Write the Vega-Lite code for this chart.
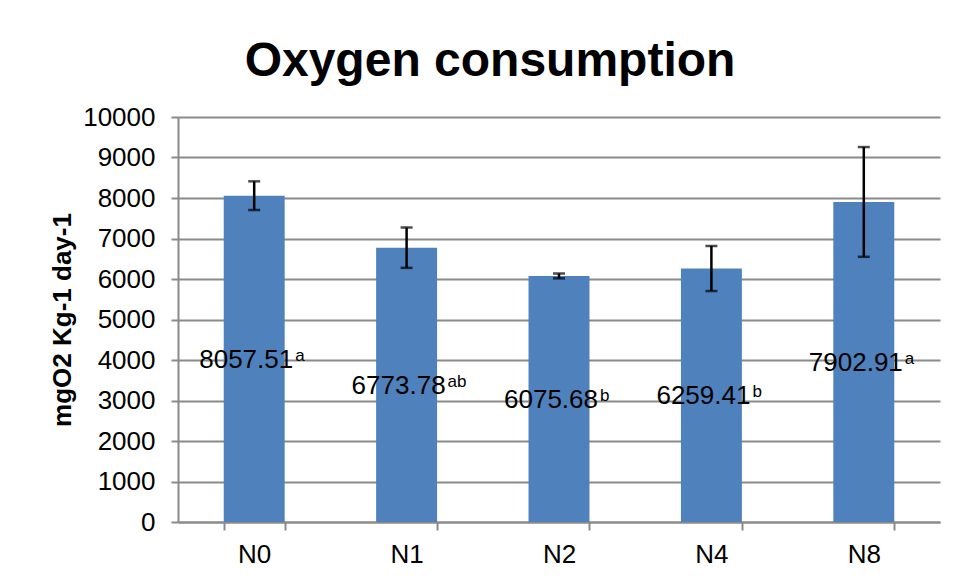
{
  "$schema": "https://vega.github.io/schema/vega-lite/v6.json",
  "width": 762,
  "height": 405,
  "autosize": "none",
  "padding": {"left": 178, "top": 117, "right": 18, "bottom": 59},
  "background": "white",
  "config": {"font": "Liberation Sans", "view": {"stroke": null}},
  "title": {
    "text": "Oxygen consumption",
    "fontSize": 48,
    "fontWeight": "bold",
    "color": "black",
    "anchor": "middle",
    "frame": "group",
    "dx": -69,
    "offset": 18
  },
  "data": {
    "values": [
      {"group": "N0", "value": 8057.51, "err": 354, "letter": "a"},
      {"group": "N1", "value": 6773.78, "err": 498, "letter": "ab"},
      {"group": "N2", "value": 6075.68, "err": 60, "letter": "b"},
      {"group": "N4", "value": 6259.41, "err": 556, "letter": "b"},
      {"group": "N8", "value": 7902.91, "err": 1355, "letter": "a"}
    ]
  },
  "layer": [
    {
      "mark": {"type": "bar", "color": "#4F81BD"},
      "encoding": {
        "x": {
          "field": "group",
          "type": "nominal",
          "sort": null,
          "scale": {"paddingInner": 0.6, "paddingOuter": 0.3},
          "axis": {
            "title": null,
            "labelAngle": 0,
            "labelFontSize": 26,
            "labelColor": "black",
            "labelPadding": 11,
            "tickSize": 8,
            "tickBand": "extent",
            "tickColor": "#8a8a8a",
            "tickWidth": 2,
            "domainColor": "#8a8a8a",
            "domainWidth": 2,
            "grid": false
          }
        },
        "y": {
          "field": "value",
          "type": "quantitative",
          "scale": {"domain": [0, 10000], "nice": false},
          "axis": {
            "title": "mgO2 Kg-1 day-1",
            "titleFontSize": 26,
            "titleFontWeight": "bold",
            "titleColor": "black",
            "titlePadding": 7,
            "labelFontSize": 26,
            "labelColor": "black",
            "labelPadding": 16,
            "format": "d",
            "tickSize": 7,
            "tickColor": "#8a8a8a",
            "tickWidth": 2,
            "domainColor": "#8a8a8a",
            "domainWidth": 2,
            "gridColor": "#8a8a8a",
            "gridWidth": 2,
            "values": [0, 1000, 2000, 3000, 4000, 5000, 6000, 7000, 8000, 9000, 10000]
          }
        }
      }
    },
    {
      "mark": {"type": "errorbar", "ticks": true, "color": "black", "thickness": 2.5, "size": 12},
      "encoding": {
        "x": {"field": "group", "type": "nominal", "sort": null},
        "y": {"field": "value", "type": "quantitative", "scale": {"domain": [0, 10000], "nice": false}, "axis": null},
        "yError": {"field": "err"}
      }
    },
    {
      "mark": {"type": "text", "fontSize": 26, "color": "black", "align": "center", "baseline": "alphabetic", "dx": -8, "dy": 9},
      "encoding": {
        "x": {"field": "group", "type": "nominal", "sort": null},
        "y": {"field": "value", "type": "quantitative", "scale": {"domain": [0, 20000], "nice": false}, "axis": null},
        "text": {"field": "value", "type": "quantitative", "format": ".2f"}
      }
    },
    {
      "mark": {"type": "text", "fontSize": 17, "color": "black", "align": "left", "baseline": "alphabetic", "dx": 41, "dy": 2},
      "encoding": {
        "x": {"field": "group", "type": "nominal", "sort": null},
        "y": {"field": "value", "type": "quantitative", "scale": {"domain": [0, 20000], "nice": false}, "axis": null},
        "text": {"field": "letter", "type": "nominal"}
      }
    }
  ],
  "resolve": {"scale": {"y": "independent"}}
}
